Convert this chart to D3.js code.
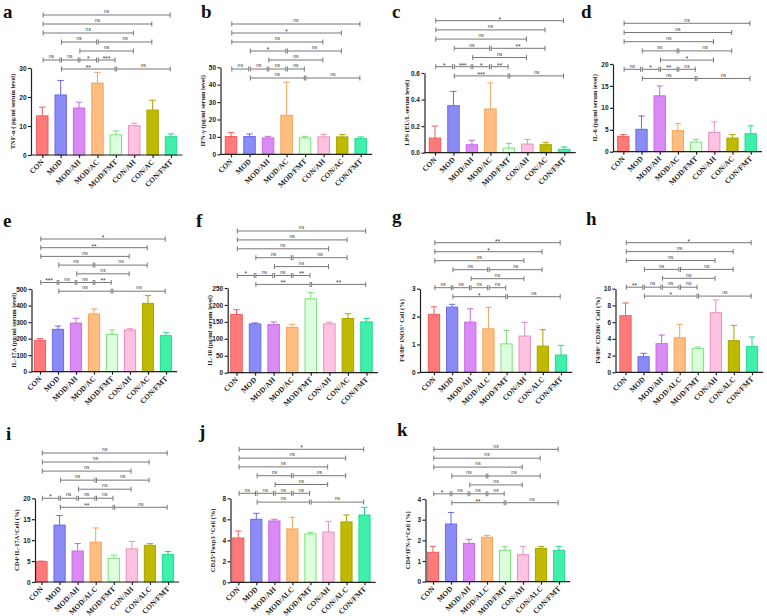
<!DOCTYPE html>
<html>
<head>
<meta charset="utf-8">
<script src="https://cdn.jsdelivr.net/npm/d3@7"></script>
<style>
  body { margin: 0; background: #fff; }
  svg text { font-family: "Liberation Serif", "Times New Roman", serif; }
</style>
</head>
<body>
<svg id="fig" width="767" height="616"></svg>
<script>
// group names (serum panels use AC, flow panels use ALC)
var groupsAC  = ["CON", "MOD", "MOD/AH", "MOD/AC", "MOD/FMT", "CON/AH", "CON/AC", "CON/FMT"];
var groupsALC = ["CON", "MOD", "MOD/AH", "MOD/ALC", "MOD/FMT", "CON/AH", "CON/ALC", "CON/FMT"];

var barFill   = ["#ff7b7b", "#8b8bf6", "#d98af5", "#ffbd80", "#dcffdc", "#ffc2e0", "#bfba00", "#3ff0aa"];
var barStroke = ["#f25c5c", "#6b6be8", "#c86be0", "#f5a35a", "#7ee07e", "#e890c0", "#a9a400", "#25d890"];

// comparisons drawn above every panel (index pairs) and their row
var pairs   = [[0,7],[0,6],[0,5],[1,3],[3,6],[2,5],[0,1],[1,2],[2,3],[3,4],[1,4],[4,7]];
var pairRow = [0, 1, 2, 3, 3, 4, 5, 5, 5, 5, 6, 6];

// means and SD
var tnfMean = [13.5, 20.7, 16.2, 24.8, 7.0, 10.1, 15.5, 6.3];
var tnfSd   = [3.0, 5.0, 2.0, 3.7, 1.3, 0.9, 3.4, 1.0];
var tnfSig  = ["ns","ns","ns","ns","ns","ns","ns","ns","*","***","**","ns"];

var ifnMean = [10.2, 10.2, 9.4, 22.4, 9.4, 10.0, 10.0, 9.0];
var ifnSd   = [2.4, 1.5, 0.9, 19.0, 0.9, 1.5, 1.3, 1.0];
var ifnSig  = ["ns","*","ns","*","ns","ns","ns","ns","ns","ns","ns","ns"];

var lpsMean = [0.11, 0.354, 0.06, 0.329, 0.035, 0.065, 0.06, 0.025];
var lpsSd   = [0.09, 0.108, 0.033, 0.196, 0.035, 0.035, 0.018, 0.018];
var lpsSig  = ["*","ns","ns","ns","**","ns","*","***","*","**","***","ns"];

var il6Mean = [3.5, 5.1, 12.75, 4.8, 2.2, 4.4, 3.1, 4.1];
var il6Sd   = [0.4, 3.05, 2.25, 1.6, 0.6, 2.4, 0.8, 1.8];
var il6Sig  = ["ns","ns","ns","ns","ns","*","ns","*","**","ns","ns","ns"];

var il17Mean = [190, 256, 294, 349, 226, 252, 413, 218];
var il17Sd   = [11, 20, 29, 30, 26, 8, 47, 18];
var il17Sig  = ["*","**","ns","ns","ns","ns","***","ns","ns","**","ns","ns"];

var il10Mean = [172, 144, 142, 134, 218, 144, 160, 150];
var il10Sd   = [14, 3, 8, 9, 19, 5, 14, 10];
var il10Sig  = ["ns","ns","ns","ns","ns","ns","*","ns","ns","**","**","**"];

var inosMean = [2.08, 2.34, 1.80, 1.56, 1.02, 1.30, 0.94, 0.62];
var inosSd   = [0.27, 0.10, 0.48, 0.77, 0.48, 0.49, 0.59, 0.35];
var inosSig  = ["**","*","ns","ns","ns","ns","ns","ns","ns","ns","*","ns"];

var cd206Mean = [6.77, 1.87, 3.43, 4.14, 2.83, 7.13, 3.78, 3.07];
var cd206Sd   = [1.52, 0.40, 1.03, 1.60, 0.20, 1.52, 1.84, 1.15];
var cd206Sig  = ["*","ns","ns","ns","ns","ns","**","ns","ns","ns","*","ns"];

var th17Mean = [4.86, 13.6, 7.4, 9.5, 5.66, 7.9, 8.76, 6.6];
var th17Sd   = [0.14, 2.3, 1.8, 3.4, 0.79, 1.8, 0.40, 0.7];
var th17Sig  = ["ns","ns","ns","ns","ns","ns","*","ns","ns","ns","**","ns"];

var tregMean = [4.22, 6.0, 5.84, 5.08, 4.6, 4.79, 5.75, 6.41];
var tregSd   = [0.67, 0.57, 0.16, 1.11, 0.16, 1.02, 0.66, 0.73];
var tregSig  = ["*","ns","ns","ns","ns","ns","ns","ns","ns","ns","ns","ns"];

var th1Mean = [1.42, 2.79, 1.85, 2.15, 1.52, 1.31, 1.61, 1.52];
var th1Sd   = [0.29, 0.56, 0.20, 0.09, 0.19, 0.40, 0.10, 0.19];
var th1Sig  = ["ns","ns","ns","ns","ns","ns","*","ns","ns","ns","**","ns"];

// titles: {+} marks a superscript plus
var panels = [
  {letter:"a", lx:3,   ly:18,  cats:groupsAC,  mean:tnfMean,  sd:tnfSd,  sig:tnfSig,  title:"TNF-α ( pg/ml  serum level)", max:30,  step:10,  fmt:"d",
   axisX:31,    first:42.3,  last:171,   y0:155,   yTop:68,    rowTop:15,    rowStep:9},
  {letter:"b", lx:201, ly:18,  cats:groupsAC,  mean:ifnMean,  sd:ifnSd,  sig:ifnSig,  title:"IFN-γ (pg/ml  serum level)", max:50,  step:10,  fmt:"d",
   axisX:220.5, first:231,   last:360.7, y0:154.3, yTop:67.3,  rowTop:24,    rowStep:9},
  {letter:"c", lx:392, ly:18,  cats:groupsAC,  mean:lpsMean,  sd:lpsSd,  sig:lpsSig,  title:"LPS (EU/L  serum level)", max:0.6, step:0.2, fmt:".1f",
   axisX:424.5, first:435,   last:564.3, y0:152.7, yTop:73,    rowTop:20.7,  rowStep:9.2},
  {letter:"d", lx:581, ly:18,  cats:groupsAC,  mean:il6Mean,  sd:il6Sd,  sig:il6Sig,  title:"IL-6 (pg/ml serum level)", max:20,  step:5,   fmt:"d",
   axisX:613,   first:623.3, last:750.7, y0:151.7, yTop:64,    rowTop:23.3,  rowStep:9.2},
  {letter:"e", lx:3,   ly:227, cats:groupsAC,  mean:il17Mean, sd:il17Sd, sig:il17Sig, title:"IL-17A (pg/ml  serum level)", max:500, step:100, fmt:"d",
   axisX:31.5,  first:40,    last:166,   y0:371.7, yTop:289,   rowTop:239,   rowStep:8.7},
  {letter:"f", lx:196, ly:227, cats:groupsAC,  mean:il10Mean, sd:il10Sd, sig:il10Sig, title:"IL-10 (pg/ml serum level)", max:250, step:50,  fmt:"d",
   axisX:227.7, first:236.5, last:366.5, y0:372.7, yTop:288,   rowTop:231,   rowStep:8.9},
  {letter:"g", lx:392, ly:223, cats:groupsALC, mean:inosMean, sd:inosSd, sig:inosSig, title:"F4/80{+} iNOS{+} Cell (%)", max:3,   step:1,   fmt:"d",
   axisX:420,   first:434,   last:561,   y0:372.3, yTop:288.7, rowTop:242.7, rowStep:9},
  {letter:"h", lx:586, ly:225, cats:groupsALC, mean:cd206Mean,sd:cd206Sd,sig:cd206Sig,title:"F4/80{+} CD206{+} Cell (%)", max:10,  step:2,   fmt:"d",
   axisX:615.5, first:625.5, last:752,   y0:372.3, yTop:288.7, rowTop:242.7, rowStep:8.9},
  {letter:"i", lx:6,   ly:440, cats:groupsALC, mean:th17Mean, sd:th17Sd, sig:th17Sig, title:"CD4{+}IL-17A{+}Cell (%)", max:20,  step:5,   fmt:"d",
   axisX:35,    first:41.5,  last:168,   y0:582,   yTop:498.3, rowTop:453,   rowStep:9.05},
  {letter:"j", lx:199, ly:438, cats:groupsALC, mean:tregMean, sd:tregSd, sig:tregSig, title:"CD25{+}Foxp3 {+}Cell (%)", max:8,   step:2,   fmt:"d",
   axisX:230.5, first:238.3, last:364.5, y0:582.3, yTop:498.3, rowTop:449.3, rowStep:8.8},
  {letter:"k", lx:397, ly:436, cats:groupsALC, mean:th1Mean,  sd:th1Sd,  sig:th1Sig,  title:"CD4{+}IFN-γ{+}Cell (%)", max:4,   step:1,   fmt:"d",
   axisX:425.5, first:433,   last:559,   y0:581.7, yTop:499,   rowTop:449.3, rowStep:8.9}
];

var svg = d3.select("#fig");

function drawPanel(p) {
  var g = svg.append("g");

  var x = d3.scalePoint().domain(p.cats).range([p.first, p.last]);
  var y = d3.scaleLinear().domain([0, p.max]).range([p.y0, p.yTop]);
  var step = x.step();
  var bw = step * 0.62;

  // bars
  g.selectAll("rect.bar").data(p.cats)
    .enter().append("rect")
    .attr("class", "bar")
    .attr("x", d => x(d) - bw / 2)
    .attr("y", (d, i) => y(p.mean[i]))
    .attr("width", bw)
    .attr("height", (d, i) => p.y0 - y(p.mean[i]))
    .attr("fill", (d, i) => barFill[i])
    .attr("stroke", (d, i) => barStroke[i])
    .attr("stroke-width", 1);

  // error bars (upper only)
  var eb = g.selectAll("g.err").data(p.cats).enter().append("g").attr("class", "err")
    .attr("stroke", (d, i) => barStroke[i])
    .attr("stroke-width", 1);
  eb.append("line")
    .attr("x1", d => x(d)).attr("x2", d => x(d))
    .attr("y1", (d, i) => y(p.mean[i]))
    .attr("y2", (d, i) => y(p.mean[i] + p.sd[i]));
  eb.append("line")
    .attr("x1", d => x(d) - bw * 0.28).attr("x2", d => x(d) + bw * 0.28)
    .attr("y1", (d, i) => y(p.mean[i] + p.sd[i]))
    .attr("y2", (d, i) => y(p.mean[i] + p.sd[i]));

  // y axis
  var yAxis = d3.axisLeft(y)
    .tickValues(d3.range(0, p.max + p.step / 2, p.step))
    .tickFormat(d3.format(p.fmt))
    .tickSize(3).tickSizeOuter(0);
  var ya = g.append("g").attr("transform", "translate(" + p.axisX + ",0)").call(yAxis);
  ya.select(".domain").attr("stroke", "#222").attr("stroke-width", 1.2);
  ya.selectAll(".tick line").attr("stroke", "#222").attr("stroke-width", 1.2);
  ya.selectAll(".tick text")
    .attr("x", -4.5)
    .style("font-family", "'Liberation Sans', Arial, sans-serif")
    .style("font-weight", "bold")
    .style("font-size", "6.5px")
    .attr("fill", "#222");

  // x axis
  var xAxis = d3.axisBottom(x).tickSize(3).tickSizeOuter(0);
  var xa = g.append("g").attr("transform", "translate(0," + p.y0 + ")").call(xAxis);
  xa.select(".domain").remove();
  xa.append("line")
    .attr("x1", p.axisX).attr("x2", p.last + step * 0.62)
    .attr("stroke", "#222").attr("stroke-width", 1.2);
  xa.selectAll(".tick line").attr("stroke", "#222").attr("stroke-width", 1.2);
  xa.selectAll(".tick text")
    .attr("y", 0).attr("dy", 0)
    .attr("transform", "translate(1.5,7.5) rotate(-45)")
    .style("text-anchor", "end")
    .style("font-family", "'Liberation Serif', 'Times New Roman', serif")
    .style("font-weight", "bold")
    .style("font-size", "7.5px")
    .attr("fill", "#222");

  // y title
  var tx = p.axisX - 16, ty = (p.y0 + p.yTop) / 2;
  var title = g.append("text")
    .attr("transform", "translate(" + tx + "," + ty + ") rotate(-90)")
    .attr("text-anchor", "middle")
    .style("font-weight", "bold")
    .style("font-size", "6.5px")
    .attr("fill", "#222");
  p.title.split(/(\{\+\})/).forEach(function(part) {
    if (part === "") return;
    if (part === "{+}") {
      title.append("tspan").attr("baseline-shift", "super").style("font-size", "4.5px").text("+");
    } else {
      title.append("tspan").text(part);
    }
  });

  // comparison brackets
  var br = g.selectAll("g.bracket").data(pairs).enter().append("g").attr("class", "bracket");
  br.each(function(pr, k) {
    var el = d3.select(this);
    var yy = p.rowTop + pairRow[k] * p.rowStep;
    var xa0 = x(p.cats[pr[0]]) + 0.8, xb0 = x(p.cats[pr[1]]) - 0.8;
    el.append("line").attr("x1", xa0).attr("x2", xb0).attr("y1", yy).attr("y2", yy);
    el.append("line").attr("x1", xa0).attr("x2", xa0).attr("y1", yy - 2.5).attr("y2", yy + 2.5);
    el.append("line").attr("x1", xb0).attr("x2", xb0).attr("y1", yy - 2.5).attr("y2", yy + 2.5);
    var lab = p.sig[k];
    el.append("text")
      .attr("x", (xa0 + xb0) / 2)
      .attr("y", lab === "ns" ? yy - 1.8 : yy + 0.8)
      .attr("text-anchor", "middle")
      .style("font-family", "'Liberation Sans', Arial, sans-serif")
      .style("font-size", lab === "ns" ? "5px" : "6.5px")
      .attr("fill", "#333")
      .text(lab);
  });
  br.selectAll("line").attr("stroke", "#777").attr("stroke-width", 1);

  // panel letter
  g.append("text")
    .attr("x", p.lx).attr("y", p.ly)
    .style("font-weight", "bold")
    .style("font-size", "19px")
    .attr("fill", "#111")
    .text(p.letter);
}

panels.forEach(drawPanel);
</script>
</body>
</html>
